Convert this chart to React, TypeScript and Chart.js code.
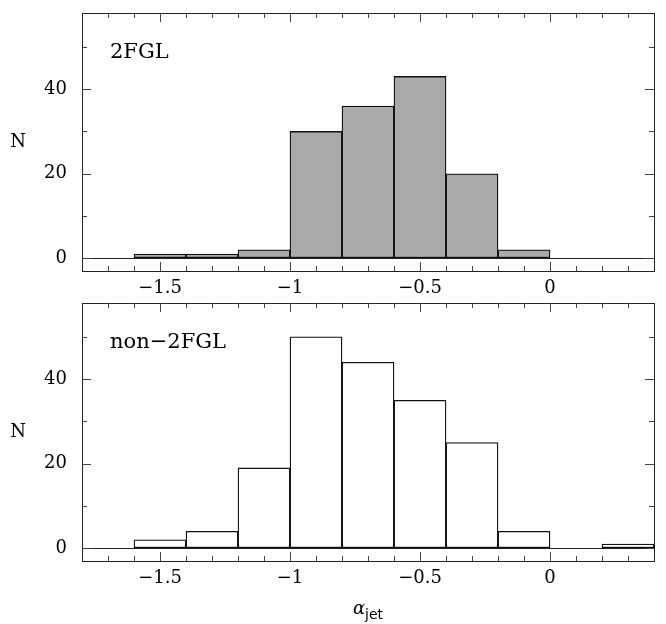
import React, { useEffect, useRef } from 'react';
import { Chart, registerables } from 'chart.js';

Chart.register(...registerables);

// Histogram bins (width 0.2), centres
const binCenters = [-1.5, -1.3, -1.1, -0.9, -0.7, -0.5, -0.3, -0.1, 0.1, 0.3];
const fermiCounts = [1, 1, 2, 30, 36, 43, 20, 2, 0, 0];
const nonFermiCounts = [2, 4, 19, 50, 44, 35, 25, 4, 0, 1];

const xMin = -1.8;
const xMax = 0.4;
const yMin = -3;
const yMax = 58;
const xMajorTicks = [-1.5, -1, -0.5, 0];
const yMajorTicks = [0, 20, 40];
const xMinorStep = 0.1;
const yMinorStep = 10;

const W = 666;
const H = 300;

function makeFramePlugin(label: string) {
  return {
    id: 'frameTicks',
    afterDraw(chart: any) {
      const { ctx, chartArea: a, scales } = chart;
      const x = scales.x;
      const y = scales.y;
      ctx.save();
      ctx.strokeStyle = '#222';
      ctx.lineWidth = 1;
      ctx.strokeRect(Math.round(a.left) + 0.5, Math.round(a.top) + 0.5, Math.round(a.right - a.left), Math.round(a.bottom - a.top));
      ctx.strokeStyle = '#444';
      ctx.beginPath();
      const xs = Math.round(xMin / xMinorStep);
      const xe = Math.round(xMax / xMinorStep);
      for (let i = xs + 1; i < xe; i++) {
        const v = i * xMinorStep;
        const px = Math.round(x.getPixelForValue(v)) + 0.5;
        const len = i % 5 === 0 ? 9 : 5;
        ctx.moveTo(px, a.bottom);
        ctx.lineTo(px, a.bottom - len);
        ctx.moveTo(px, a.top);
        ctx.lineTo(px, a.top + len);
      }
      for (let v = 0; v < yMax; v += yMinorStep) {
        const py = Math.round(y.getPixelForValue(v)) + 0.5;
        const len = v % 20 === 0 ? 9 : 5;
        ctx.moveTo(a.left, py);
        ctx.lineTo(a.left + len, py);
        ctx.moveTo(a.right, py);
        ctx.lineTo(a.right - len, py);
      }
      ctx.stroke();
      ctx.fillStyle = '#000';
      ctx.font = '21px "DejaVu Serif"';
      ctx.textAlign = 'left';
      ctx.textBaseline = 'middle';
      ctx.fillText(label, a.left + 28, a.top + 40);
      ctx.font = '18px "DejaVu Serif"';
      ctx.textAlign = 'center';
      ctx.fillText('N', 18, (a.top + a.bottom) / 2);
      ctx.restore();
    },
  };
}

function makeConfig(counts: number[], fill: string, label: string): any {
  const data = binCenters
    .map((c, i) => ({ x: c, y: counts[i] }))
    .filter((d) => d.y > 0);
  return {
    type: 'bar',
    data: {
      datasets: [
        {
          data,
          backgroundColor: fill,
          borderColor: '#111',
          borderWidth: 1.3,
          borderSkipped: false,
          barPercentage: 1,
          categoryPercentage: 1,
        },
      ],
    },
    options: {
      responsive: false,
      animation: false,
      layout: { padding: { left: 0, right: 12, top: 13, bottom: 0 } },
      plugins: { legend: { display: false }, tooltip: { enabled: false } },
      scales: {
        x: {
          type: 'linear',
          min: xMin,
          max: xMax,
          offset: false,
          afterBuildTicks: (s: any) => {
            s.ticks = xMajorTicks.map((value) => ({ value }));
          },
          afterFit: (s: any) => {
            s.height = 29;
            s.paddingLeft = 0;
            s.paddingRight = 0;
          },
          grid: { display: false, drawTicks: false },
          border: { display: false },
          ticks: {
            padding: 7,
            color: '#000',
            font: { family: 'DejaVu Serif', size: 18 },
            maxRotation: 0,
            callback: (v: number) => String(v).replace('-', '\u2212'),
          },
        },
        y: {
          type: 'linear',
          min: yMin,
          max: yMax,
          afterBuildTicks: (s: any) => {
            s.ticks = yMajorTicks.map((value) => ({ value }));
          },
          afterFit: (s: any) => {
            s.width = 82;
            s.paddingTop = 0;
            s.paddingBottom = 0;
          },
          grid: {
            drawTicks: false,
            color: (c: any) => (c.tick && c.tick.value === 0 ? '#222' : 'rgba(0,0,0,0)'),
            lineWidth: 1,
          },
          border: { display: false },
          ticks: {
            padding: 15,
            color: '#000',
            font: { family: 'DejaVu Serif', size: 18 },
          },
        },
      },
    },
    plugins: [makeFramePlugin(label)],
  };
}

function Panel({ counts, fill, label, top }: { counts: number[]; fill: string; label: string; top: number }) {
  const ref = useRef<HTMLCanvasElement>(null);
  useEffect(() => {
    if (!ref.current) return;
    const chart = new Chart(ref.current, makeConfig(counts, fill, label));
    return () => chart.destroy();
  }, []);
  return (
    <canvas
      ref={ref}
      width={W}
      height={H}
      style={{ position: 'absolute', left: 0, top, width: W, height: H, display: 'block' }}
    />
  );
}

export default function App() {
  return (
    <div style={{ position: 'fixed', left: 0, top: 0, width: W, height: 624, background: '#fff', overflow: 'hidden' }}>
      <Panel counts={fermiCounts} fill="#aaaaaa" label="2FGL" top={0} />
      <Panel counts={nonFermiCounts} fill="#ffffff" label={'non\u22122FGL'} top={290} />
      <div
        style={{
          position: 'absolute',
          left: 0,
          width: 736,
          top: 598,
          textAlign: 'center',
          fontFamily: '"DejaVu Sans"',
          fontSize: 18,
          color: '#000',
          lineHeight: '20px',
        }}
      >
        <span style={{ fontFamily: '"DejaVu Serif"', fontStyle: 'italic' }}>α</span>
        <span style={{ fontSize: 14, position: 'relative', top: 5 }}>jet</span>
      </div>
    </div>
  );
}
